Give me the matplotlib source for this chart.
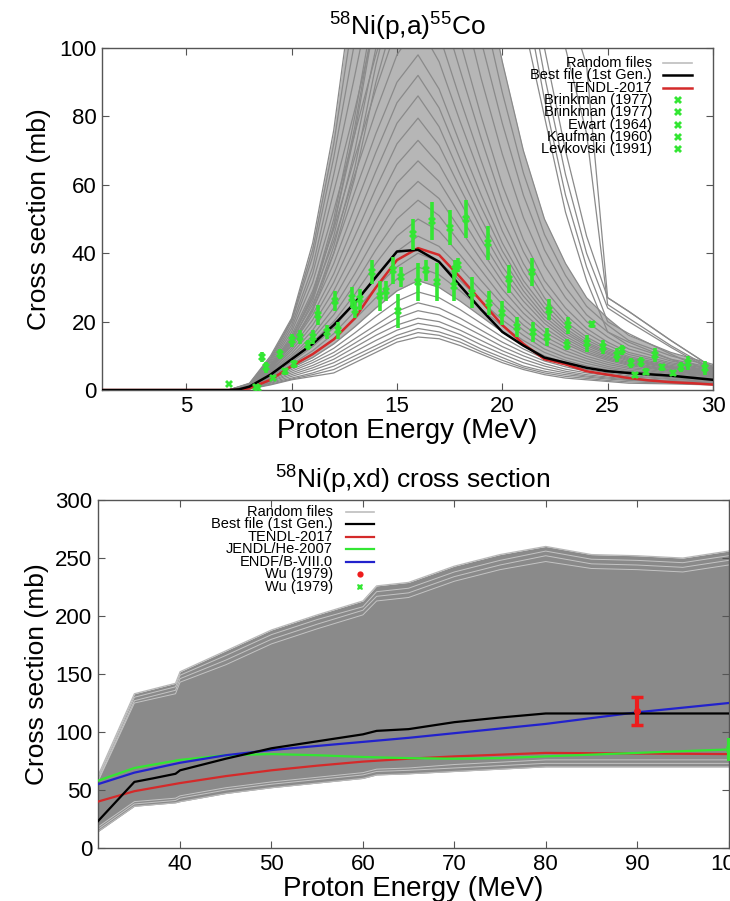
import matplotlib
matplotlib.use("Agg")
import matplotlib.pyplot as plt
import numpy as np

plt.rcParams.update({
    "font.family": ["Liberation Sans", "DejaVu Sans"],
    "mathtext.fontset": "custom",
    "mathtext.rm": "Liberation Sans",
    "mathtext.it": "Liberation Sans:italic",
    "axes.linewidth": 1.0,
    "axes.edgecolor": "#555555",
    "xtick.direction": "in",
    "ytick.direction": "in",
    "xtick.top": True,
    "ytick.right": True,
    "xtick.major.size": 5,
    "ytick.major.size": 5,
    "xtick.color": "#555555",
    "ytick.color": "#555555",
    "xtick.labelcolor": "black",
    "ytick.labelcolor": "black",
})

GRAY = "#8a8a8a"
RED = "#d42a2a"
GREEN = "#33e633"
BLUE = "#2222cc"

# ---------------------------------------------------------------- (p,a) panel data
E_rand_a = [1, 7, 8, 9, 10, 11, 12, 13, 14, 15, 16, 17, 18, 19, 20, 21, 22, 23, 24, 25, 26, 28, 30]
rand_a = [
    [0, 0, 0.3, 1.5, 3, 4, 5, 8, 11, 14, 15.5, 15, 13, 10.5, 8, 6, 4.5, 3.5, 3, 2.5, 2, 1.8, 1.5],
    [0, 0, 0.35, 1.7, 3.2, 4.5, 6, 9, 12, 15, 16.8, 16, 14, 11.2, 8.7, 6.5, 5, 4, 3.4, 2.8, 2.4, 2, 1.6],
    [0, 0, 0.4, 2, 3.5, 5, 7, 10, 13, 16, 18, 17, 15, 12, 9.5, 7, 5.5, 4.5, 3.8, 3.2, 2.8, 2.2, 1.8],
    [0, 0, 0.45, 2.2, 4, 5.8, 8, 11.2, 14.5, 17.5, 19.5, 18.5, 16.2, 13.2, 10.5, 8, 6.2, 5, 4.1, 3.5, 3, 2.4, 1.9],
    [0, 0, 0.5, 2.5, 4.5, 6.5, 9, 12.5, 16, 19, 21, 20, 17.5, 14.5, 11.5, 9, 7, 5.5, 4.5, 3.8, 3.2, 2.6, 2.1],
    [0, 0, 0.55, 2.7, 5, 7.2, 10, 13.7, 17.5, 21, 23.2, 22, 19.2, 16, 12.7, 10, 7.7, 6.1, 5, 4.2, 3.5, 2.8, 2.3],
    [0, 0, 0.6, 3, 5.5, 8, 11, 15, 19, 23, 25.5, 24, 21, 17.5, 14, 11, 8.5, 6.8, 5.5, 4.6, 3.9, 3.1, 2.5],
    [0, 0, 0.65, 3.2, 6, 8.7, 12.2, 16.7, 21.5, 26, 28.7, 27, 23.5, 19.5, 15.5, 12, 9.2, 7.4, 6, 5, 4.2, 3.3, 2.7],
    [0, 0, 0.7, 3.5, 6.5, 9.5, 13.5, 18.5, 24, 29, 32, 30, 26, 21.5, 17, 13, 10, 8, 6.5, 5.4, 4.6, 3.6, 2.9],
    [0, 0, 0.75, 3.7, 7, 10.5, 15, 20.7, 27, 32.5, 36, 33.7, 29, 23.7, 18.7, 14.5, 11, 8.7, 7.1, 5.9, 5, 3.9, 3.1],
    [0, 0, 0.8, 4, 7.5, 11.5, 16.5, 23, 30, 36, 40, 37.5, 32, 26, 20.5, 16, 12, 9.5, 7.8, 6.4, 5.4, 4.2, 3.3],
    [0, 0, 0.85, 4.2, 8.2, 12.7, 18.2, 25.5, 33.5, 40.5, 45, 42, 35.7, 29, 22.7, 17.5, 13.2, 10.5, 8.5, 6.9, 5.8, 4.5, 3.5],
    [0, 0, 0.9, 4.5, 9, 14, 20, 28, 37, 45, 50, 46.5, 39.5, 32, 25, 19, 14.5, 11.5, 9.2, 7.5, 6.3, 4.8, 3.8],
    [0, 0, 0.95, 4.7, 9.5, 15, 22, 31, 41, 50, 55.5, 51, 43, 35, 27, 20.7, 15.7, 12.5, 9.9, 8.1, 6.7, 5.1, 4],
    [0, 0, 1, 5, 10, 16, 24, 34, 45, 55, 61, 56, 47, 38, 29.5, 22.5, 17, 13.5, 10.7, 8.7, 7.2, 5.4, 4.2],
    [0, 0, 1.05, 5.2, 10.7, 17.5, 26.5, 37.5, 49.5, 60.5, 67, 61, 51, 41, 31.7, 24.2, 18.2, 14.2, 11.2, 9.1, 7.5, 5.6, 4.3],
    [0, 0, 1.1, 5.5, 11.5, 19, 29, 41, 54, 66, 73, 66, 55, 44, 34, 26, 19.5, 15, 11.8, 9.5, 7.8, 5.8, 4.5],
    [0, 0, 1.15, 5.7, 12.2, 20.5, 31.5, 45, 59, 72, 79.5, 71.5, 59, 47, 36.2, 27.5, 20.5, 15.7, 12.4, 9.9, 8.1, 6, 4.6],
    [0, 0, 1.2, 6, 13, 22, 34, 49, 64, 78, 86, 77, 63, 50, 38.5, 29, 21.5, 16.5, 13, 10.4, 8.5, 6.3, 4.8],
    [0, 0, 1.25, 6.2, 13.7, 23.5, 37, 53.5, 69.5, 84, 92, 82.5, 67.5, 53.5, 40.7, 30.5, 22.7, 17.2, 13.5, 10.8, 8.8, 6.5, 4.9],
    [0, 0, 1.3, 6.5, 14.5, 25, 40, 58, 75, 90, 98, 88, 72, 57, 43, 32, 24, 18, 14, 11.2, 9.1, 6.7, 5.1],
    [0, 0, 1.35, 6.7, 15.2, 27, 43.5, 63, 81.5, 98, 107, 96, 78.5, 62, 46.5, 34.5, 25.5, 19, 14.7, 11.7, 9.4, 6.9, 5.3],
    [0, 0, 1.4, 7, 16, 29, 47, 68, 88, 106, 116, 104, 85, 67, 50, 37, 27, 20, 15.5, 12.2, 9.8, 7.2, 5.5],
    [0, 0, 1.45, 7.5, 17, 31.5, 52.5, 75, 98, 117, 127, 114, 93.5, 73.5, 55, 40.5, 29.5, 22, 16.7, 13.1, 10.4, 7.6, 5.7],
    [0, 0, 1.5, 8, 18, 34, 58, 82, 108, 128, 138, 124, 102, 80, 60, 44, 32, 24, 18, 14, 11, 8, 6],
    [0, 0, 1.65, 8.5, 19, 36, 63, 92, 122, 146, 156, 141, 116, 91, 69, 50.5, 36.5, 27, 20, 15.5, 12, 8.5, 6.2],
    [0, 0, 1.8, 9, 20, 39, 68, 102, 138, 165, 175, 158, 130, 102, 78, 57, 41, 30, 22, 17, 13, 9, 6.5],
    [0, 0, 1.9, 9.5, 20.5, 41, 72, 112, 152, 182, 192, 174, 145, 114, 87, 63.5, 45.5, 33.5, 24.5, 19, 14.5, 10, 7],
    [0, 0, 2, 10, 21, 43, 76, 122, 168, 200, 210, 190, 160, 126, 96, 70, 50, 37, 27, 21, 16, 11, 7.5],
    [0, 0, 1.5, 7, 15, 28, 50, 80, 115, 145, 165, 175, 180, 178, 170, 160, 140, 115, 95, 27, 23, 14.5, 6.5],
    [0, 0, 1.5, 7, 15, 27, 48, 77, 112, 142, 162, 172, 178, 175, 165, 150, 125, 100, 75, 25, 21, 13, 6],
    [0, 0, 1.5, 7, 15, 28, 48, 75, 110, 140, 160, 170, 175, 170, 160, 135, 100, 70, 45, 27, 23, 14.5, 6.5],
    [0, 0, 1.5, 7, 14, 26, 45, 70, 100, 130, 150, 160, 165, 160, 150, 125, 92, 63, 40, 24, 20, 12.5, 5.5],
    [0, 0, 1.5, 6.5, 13, 24, 42, 65, 95, 120, 140, 150, 155, 150, 140, 118, 85, 57, 36, 20, 16.5, 10.5, 5],
    [0, 0, 1.4, 6.5, 13, 23, 40, 62, 90, 112, 130, 140, 145, 140, 130, 108, 80, 52, 32, 17, 14, 9, 4.5],
]

E_eval_a = [1, 7, 7.5, 8, 9, 10, 11, 12, 13, 14, 15, 16, 17, 18, 19, 20, 21, 22, 23, 24, 25, 26, 27, 28, 29, 30]
best_a = [0, 0, 0.2, 1, 4.5, 9, 13.5, 19, 25.5, 33, 40.5, 41, 37.5, 30.5, 23.5, 17, 13, 9.5, 8, 6.5,
          5.5, 5, 4.6, 4.2, 3.6, 3]
tendl_a = [0, 0, 0.1, 0.5, 3, 7, 10.5, 14.8, 21, 30, 38, 41.5, 39.5, 33, 26, 19, 13.5, 9, 7.5, 5.5,
           4.5, 3.5, 2.8, 2.3, 2, 1.6]

exp_E = [7.05, 8.3, 8.4, 8.6, 8.8, 9.1, 9.45, 9.7, 10.0, 10.1, 10.4, 10.8, 11.0, 11.25, 11.7, 12.05,
         12.2, 12.85, 13.0, 13.25, 13.8, 14.2, 14.5, 14.8, 15.05, 15.2, 15.75, 16.0, 16.4, 16.65, 16.9,
         17.5, 17.7, 17.75, 17.9, 18.3, 18.55, 19.3, 19.35, 20.0, 20.3, 20.7, 21.4, 21.45, 22.1, 22.2,
         23.05, 23.1, 24.0, 24.25, 24.8, 25.45, 25.7, 26.1, 26.3, 26.6, 26.8, 27.25, 27.6, 28.1, 28.5,
         28.8, 29.6]
exp_xs = [1.7, 0.8, 0.6, 9.7, 6.6, 3.6, 10.5, 5.5, 14.5, 7.5, 15.5, 13.2, 15.5, 22.0, 17.0, 26.0,
          17.5, 27.0, 23.5, 26.5, 34.5, 27.5, 29.0, 35.0, 23.0, 33.0, 45.5, 31.5, 35.0, 49.5, 31.5,
          47.5, 30.5, 35.5, 36.5, 50.0, 28.5, 43.0, 25.5, 22.5, 32.5, 18.5, 34.5, 17.0, 15.5, 23.5,
          13.3, 19.0, 13.7, 19.2, 12.6, 10.2, 11.7, 7.9, 4.4, 8.2, 5.3, 10.2, 6.7, 5.0, 6.7,
          7.9, 6.4]
exp_err = [0.5, 0.3, 0.3, 1.5, 1.5, 0.8, 1.5, 1.0, 2.0, 1.2, 2.0, 1.5, 2.0, 3.0, 2.0, 3.0,
           2.5, 3.0, 2.5, 3.0, 3.5, 4.5, 3.0, 4.0, 5.0, 3.0, 4.5, 5.5, 3.0, 5.5, 5.5,
           5.0, 4.5, 2.5, 2.0, 5.5, 4.5, 5.0, 3.5, 3.5, 4.0, 3.0, 4.0, 3.0, 2.5, 3.0,
           1.5, 2.5, 2.5, 1.0, 2.0, 2.0, 1.5, 1.5, 1.0, 1.5, 1.0, 2.0, 1.0, 1.0, 1.5,
           2.0, 2.0]
exp_labels_a = ["Brinkman (1977)", "Brinkman (1977)", "Ewart (1964)", "Kaufman (1960)",
                "Levkovski (1991)"]

# ---------------------------------------------------------------- (p,xd) panel data
E_band_d = [31, 35, 39.5, 40, 45, 50, 55, 60, 61.5, 65, 70, 75, 80, 85, 90, 95, 100]
band_hi_d = [62, 133, 142, 152, 170, 188, 201, 213, 226, 229, 243, 253, 260, 253, 252, 250, 256]
band_lo_d = [14, 36, 39, 40, 47, 52, 56, 60, 63, 64, 66, 68, 70, 70, 70, 70, 70]
streaks_d = [
    [60, 130, 139, 149, 166, 184, 197, 208, 221, 224, 238, 248, 256, 249, 248, 246, 252],
    [58, 127, 136, 146, 162, 180, 193, 205, 217, 220, 234, 244, 252, 245, 244, 242, 248],
    [57, 125, 133, 143, 158, 176, 189, 201, 213, 216, 230, 240, 247, 241, 240, 238, 244],
    [16, 38, 41, 43, 50, 55, 59, 63, 66, 67, 69, 71, 73, 73, 73, 73, 73],
    [18, 40, 43, 45, 52, 57, 61, 65, 68, 69, 72, 74, 76, 76, 76, 76, 76],
]

E_best_d = [31, 35, 37, 39.5, 40, 42, 45, 50, 55, 60, 61.5, 65, 70, 75, 80, 90, 100]
best_d = [23, 57, 60, 64, 67, 71, 77, 86, 92, 98, 101, 102.5, 108.5, 112.5, 116, 116, 116]
E_tendl_d = [31, 35, 40, 45, 50, 55, 60, 65, 70, 80, 90, 100]
tendl_d = [40, 49, 56, 62, 67, 71, 74.5, 77, 79, 82, 81.5, 81]
E_eval_d = [31, 35, 40, 45, 50, 55, 60, 65, 70, 75, 80, 85, 90, 95, 100]
jendl_d = [58, 69, 76, 80, 81, 80, 78.5, 77.5, 77, 77.5, 79, 80.5, 82, 83.5, 85]
endf_d = [55, 65, 73.5, 80, 84.5, 88, 91.5, 95, 99, 103, 107, 112, 117, 121, 125]
wu_red_E, wu_red_xs, wu_red_err = [90], [118], [12]
wu_grn_E, wu_grn_xs, wu_grn_err = [100], [85], [10]

# ---------------------------------------------------------------- figure
fig = plt.figure(figsize=(7.30, 9.01), dpi=100)
ax1 = fig.add_axes([0.1397, 0.5671, 0.8370, 0.3796])
ax2 = fig.add_axes([0.1340, 0.0588, 0.8640, 0.3862])

TICK_FS = 16
XLAB_FS = 20
YLAB_FS = 19
TITLE_FS = 19

# (a) 58Ni(p,a)55Co
ax1.fill_between(E_rand_a, rand_a[8], rand_a[28], color="#b6b6b6", lw=0, zorder=1)
for row in rand_a:
    ax1.plot(E_rand_a, row, color=GRAY, lw=0.9, zorder=2)
ax1.plot(E_eval_a, tendl_a, color=RED, lw=1.8, zorder=3)
ax1.plot(E_eval_a, best_a, color="black", lw=1.8, zorder=4)
ax1.errorbar(exp_E, exp_xs, yerr=exp_err, fmt="X", color=GREEN, ms=5.5, mew=0,
             elinewidth=2.6, capsize=2.5, capthick=2, zorder=5)
ax1.set_xlim(1, 30)
ax1.set_ylim(0, 100)
ax1.set_xticks([5, 10, 15, 20, 25, 30])
ax1.set_yticks([0, 20, 40, 60, 80, 100])
ax1.tick_params(labelsize=TICK_FS, pad=4)
ax1.set_xlabel("Proton Energy (MeV)", fontsize=XLAB_FS, labelpad=1)
ax1.set_ylabel("Cross section (mb)", fontsize=YLAB_FS, labelpad=6)
ax1.set_title(r"$^{58}$Ni(p,a)$^{55}$Co", fontsize=TITLE_FS, pad=9)

# gnuplot-like key, labels right-aligned before the sample
leg_font = dict(fontsize=10.5, family=["Liberation Sans", "DejaVu Sans"])
rows = [("Random files", "line", "#bdbdbd"), ("Best file (1st Gen.)", "line", "black"),
        ("TENDL-2017", "line", RED)] + [(s, "pt", GREEN) for s in exp_labels_a]
for i, (lab, kind, col) in enumerate(rows):
    y = 0.956 - 0.036 * i
    ax1.text(0.900, y, lab, transform=ax1.transAxes, ha="right", va="center", zorder=7, **leg_font)
    if kind == "line":
        ax1.plot([0.918, 0.966], [y, y], transform=ax1.transAxes, color=col,
                 lw=1.2 if i == 0 else 1.8, clip_on=False, zorder=7)
    else:
        ax1.plot([0.942], [y], "X", transform=ax1.transAxes, color=col, ms=5.5, mew=0,
                 clip_on=False, zorder=7)

# (b) 58Ni(p,xd)
ax2.fill_between(E_band_d, band_lo_d, band_hi_d, color=GRAY, lw=0, zorder=1)
for row in streaks_d:
    ax2.plot(E_band_d, row, color="#c4c4c4", lw=0.7, zorder=2)
ax2.plot(E_band_d, band_hi_d, color="#b8b8b8", lw=0.9, zorder=2)
ax2.plot(E_band_d, band_lo_d, color="#b8b8b8", lw=0.9, zorder=2)
ax2.plot(E_tendl_d, tendl_d, color=RED, lw=1.6, zorder=3)
ax2.plot(E_eval_d, jendl_d, color=GREEN, lw=1.6, zorder=3)
ax2.plot(E_eval_d, endf_d, color=BLUE, lw=1.6, zorder=3)
ax2.plot(E_best_d, best_d, color="black", lw=1.6, zorder=4)
ax2.errorbar(wu_red_E, wu_red_xs, yerr=wu_red_err, fmt="o", color="#ee1c1c", ms=4,
             elinewidth=3, capsize=4, capthick=2.5, zorder=5)
ax2.errorbar(wu_grn_E, wu_grn_xs, yerr=wu_grn_err, fmt="X", color=GREEN, ms=5, mew=0,
             elinewidth=3, capsize=4, capthick=2.5, zorder=5, clip_on=False)
ax2.set_xlim(31, 100)
ax2.set_ylim(0, 300)
ax2.set_xticks([40, 50, 60, 70, 80, 90, 100])
ax2.set_yticks([0, 50, 100, 150, 200, 250, 300])
ax2.tick_params(labelsize=TICK_FS, pad=4)
ax2.set_xlabel("Proton Energy (MeV)", fontsize=XLAB_FS, labelpad=1)
ax2.set_ylabel("Cross section (mb)", fontsize=YLAB_FS, labelpad=4)
ax2.set_title(r"$^{58}$Ni(p,xd) cross section", fontsize=TITLE_FS, pad=8)

leg_font2 = dict(fontsize=10.5, family=["Liberation Sans", "DejaVu Sans"])
rows2 = [("Random files", "line", "#bdbdbd"), ("Best file (1st Gen.)", "line", "black"),
         ("TENDL-2017", "line", RED), ("JENDL/He-2007", "line", GREEN),
         ("ENDF/B-VIII.0", "line", BLUE), ("Wu (1979)", "o", "#ee1c1c"), ("Wu (1979)", "X", GREEN)]
for i, (lab, kind, col) in enumerate(rows2):
    y = 0.966 - 0.0358 * i
    ax2.text(0.373, y, lab, transform=ax2.transAxes, ha="right", va="center", zorder=7, **leg_font2)
    if kind == "line":
        ax2.plot([0.394, 0.438], [y, y], transform=ax2.transAxes, color=col,
                 lw=1.2 if i == 0 else 1.6, clip_on=False, zorder=7)
    else:
        ax2.plot([0.416], [y], kind, transform=ax2.transAxes, color=col, ms=4.5, mew=0,
                 clip_on=False, zorder=7)

fig.savefig("out.png", dpi=100)
